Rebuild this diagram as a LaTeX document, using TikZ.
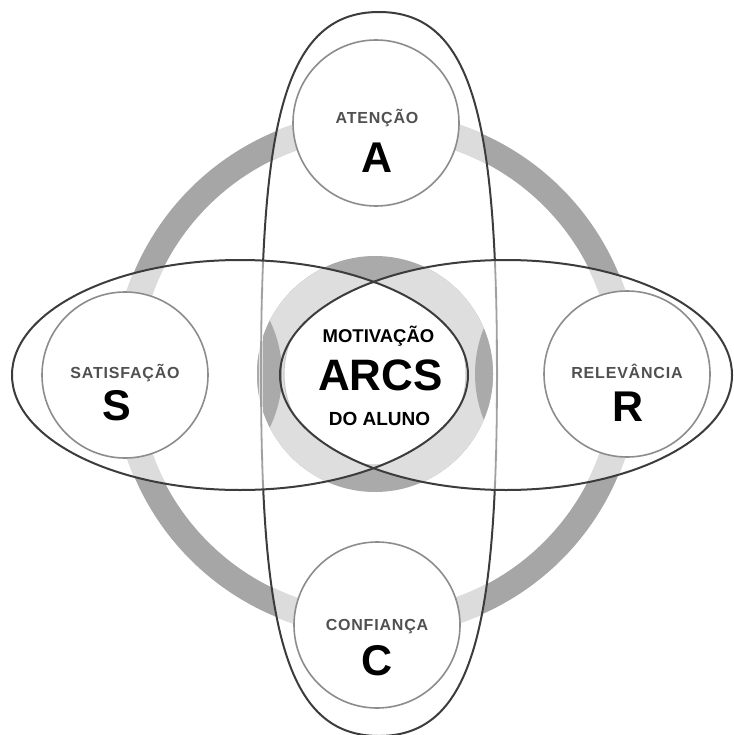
\documentclass[tikz,border=0pt]{standalone}
\usepackage{fontspec}
\setmainfont{Liberation Sans}
\newfontfamily\lblfont[LetterSpace=5]{Liberation Sans}
\definecolor{ringdark}{HTML}{A6A6A6}
\definecolor{ringlight}{HTML}{DCDCDC}
\definecolor{diskdark}{HTML}{AAAAAA}
\definecolor{disklight}{HTML}{DEDEDE}
\definecolor{innergray}{HTML}{C8C8C8}
\definecolor{circgray}{HTML}{8C8C8C}
\definecolor{linedark}{HTML}{3C3C3C}
\definecolor{vlight}{HTML}{A0A0A0}
\definecolor{labelgray}{HTML}{505050}
\def\Lpath{(240,375) ellipse[x radius=228, y radius=115]}
\def\Rpath{(506,375) ellipse[x radius=226, y radius=115]}
\def\Vpath{(379,12) .. controls (474,12) and (497,124) .. (497,374) .. controls (497,624) and (474,736) .. (379,736) .. controls (284,736) and (261,624) .. (261,374) .. controls (261,124) and (284,12) .. cycle}
\tikzset{
  lbl/.style={anchor=base, text=labelgray, font=\lblfont\bfseries\fontsize{16}{18}\selectfont, inner sep=0pt},
  bigl/.style={anchor=base, text=black, font=\bfseries\fontsize{43}{50}\selectfont, inner sep=0pt},
  ctxt/.style={anchor=base, text=black, font=\bfseries\fontsize{18.5}{22}\selectfont, inner sep=0pt},
  outerc/.style={circle, draw=circgray, line width=1.6pt, fill=white, minimum size=166pt, inner sep=0pt},
  eline/.style={draw=linedark, line width=2pt},
  ringband/.style={line width=25pt},
}
\begin{document}
\begin{tikzpicture}[x=1pt,y=-1pt]
\useasboundingbox (0,0) rectangle (733,735);
% big ring
\draw[ringband, ringdark] (376,374) circle[radius=250];
\begin{scope}\clip \Lpath; \draw[ringband, ringlight, line width=26pt] (376,374) circle[radius=250];\end{scope}
\begin{scope}\clip \Rpath; \draw[ringband, ringlight, line width=26pt] (376,374) circle[radius=250];\end{scope}
\begin{scope}\clip \Vpath; \draw[ringband, ringlight, line width=26pt] (376,374) circle[radius=250];\end{scope}
% centre disk
\fill[diskdark] (375,374) circle[radius=118];
\begin{scope}
  \clip (375,374) circle[radius=118];
  \begin{scope}\clip \Lpath; \fill[disklight] (375,374) circle[radius=120];\end{scope}
  \begin{scope}\clip \Rpath; \fill[disklight] (375,374) circle[radius=120];\end{scope}
  \fill[diskdark] (159,374) circle[radius=123];
  \fill[diskdark] (598,374) circle[radius=123];
\end{scope}
\begin{scope}
  \clip \Lpath; \clip \Rpath;
  \filldraw[fill=white, draw=innergray, line width=1pt] (375,374) circle[radius=91];
\end{scope}
% outer circles
\node[outerc] (cA) at (376,123) {};
\node[outerc] (cS) at (125,375) {};
\node[outerc] (cR) at (627,374) {};
\node[outerc] (cC) at (377,625) {};
% vertical shape
\draw[eline] \Vpath;
\begin{scope}\clip \Lpath; \draw[white, line width=3.2pt] \Vpath; \draw[vlight, line width=1.8pt] \Vpath;\end{scope}
\begin{scope}\clip \Rpath; \draw[white, line width=3.2pt] \Vpath; \draw[vlight, line width=1.8pt] \Vpath;\end{scope}
% horizontal shapes
\draw[eline] \Lpath;
\draw[eline] \Rpath;
% texts
\node[lbl] (tA) at (377,124) {ATENÇÃO};
\node[bigl] (lA) at (377.5,173) {A};
\node[lbl] (tS) at (125,378) {SATISFAÇÃO};
\node[bigl] (lS) at (117,420) {S};
\node[lbl] (tR) at (627,378) {RELEVÂNCIA};
\node[bigl] (lR) at (628,421) {R};
\node[lbl] (tC) at (377,630) {CONFIANÇA};
\node[bigl] (lC) at (377.5,675) {C};
\node[ctxt] (m1) at (378.5,342) {MOTIVAÇÃO};
\node[ctxt, font=\bfseries\fontsize{44}{50}\selectfont] (m2) at (380.5,390) {ARCS};
\node[ctxt, font=\bfseries\fontsize{19}{22}\selectfont] (m3) at (379.5,425) {DO ALUNO};
\end{tikzpicture}
\end{document}
